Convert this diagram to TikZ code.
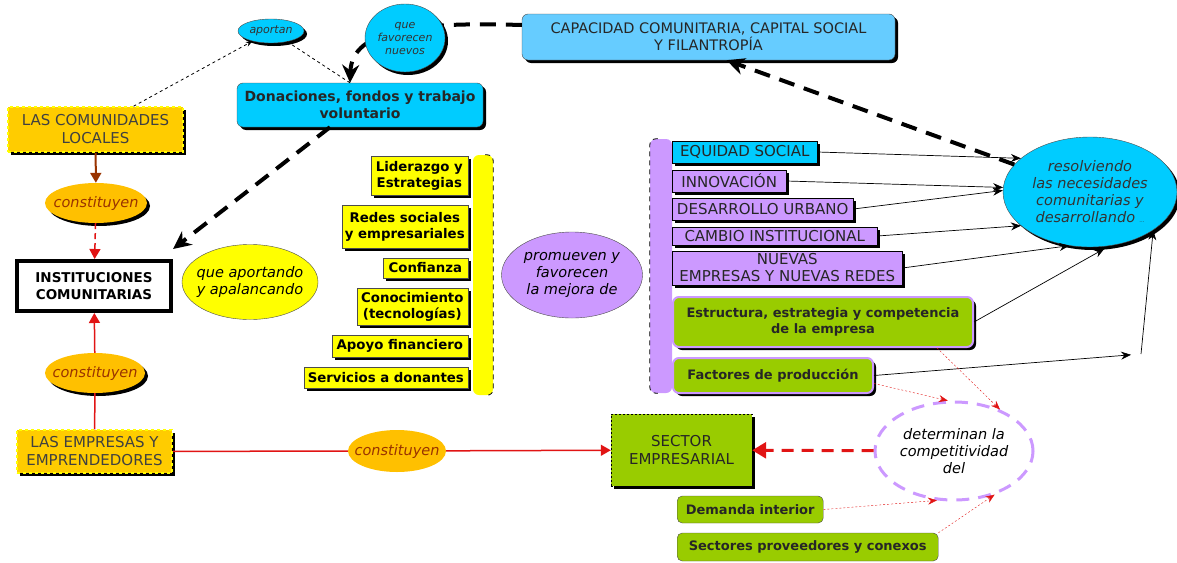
\documentclass[tikz,border=0pt]{standalone}
\usepackage{fontspec}
\setmainfont{DejaVu Sans}
\usetikzlibrary{shapes.geometric, shadows, arrows.meta}

\definecolor{celeste}{RGB}{0,204,255}
\definecolor{celestecl}{RGB}{102,204,255}
\definecolor{dorado}{RGB}{255,204,0}
\definecolor{amarillo}{RGB}{255,255,0}
\definecolor{lila}{RGB}{204,153,255}
\definecolor{verde}{RGB}{153,204,0}
\definecolor{naranja}{RGB}{255,192,0}
\definecolor{marron}{RGB}{153,51,0}
\definecolor{rojo}{RGB}{225,20,20}

\begin{document}
\begin{tikzpicture}[
    x=1pt, y=-1pt, >=Stealth,
    sombra/.style={drop shadow={fill=black, opacity=1, shadow xshift=3pt, shadow yshift=-3pt}},
    cajaoro/.style={rectangle, fill=dorado, draw=amarillo, line width=1.5pt, dashed, sombra,
        text=black!75, font=\fontsize{15}{18}\selectfont, align=center, inner sep=2pt},
    cajaceleste/.style={rectangle, rounded corners=6pt, fill=celeste, draw=black!70, sombra,
        text=black!85, font=\bfseries\fontsize{14}{17}\selectfont, align=center},
    cajaamarilla/.style={rectangle, fill=amarillo, draw=black!70, sombra, anchor=east,
        font=\bfseries\fontsize{13.3}{16}\selectfont, align=center, inner xsep=3pt, inner ysep=1pt},
    cajalila/.style={rectangle, fill=lila, draw=black, sombra, anchor=west,
        font=\fontsize{15}{17}\selectfont, text=black!85, align=center, inner xsep=4pt, inner ysep=0pt},
    cajaverde/.style={rectangle, rounded corners=6pt, fill=verde, draw=lila, line width=2pt, sombra,
        anchor=west, font=\bfseries\fontsize{13}{16}\selectfont, text=black!85, align=center},
    cajaverdesimple/.style={rectangle, rounded corners=5pt, fill=verde, draw=black!70, anchor=west,
        font=\bfseries\fontsize{13}{16}\selectfont, text=black!85},
    elipse/.style={ellipse, inner sep=0pt, align=center, font=\itshape\fontsize{14.5}{17}\selectfont},
    elipsenaranja/.style={elipse, fill=naranja, text=marron, inner xsep=-8pt},
    elipseceleste/.style={elipse, fill=celeste, draw=black!70, sombra, text=black!80},
    flechafina/.style={black, line width=0.7pt, -{Stealth[length=10pt, width=8pt]}},
    flechagruesa/.style={line width=4pt, dash pattern=on 16pt off 10pt, -{Stealth[length=18pt, width=17pt]}},
    flechapunteada/.style={rojo, dash pattern=on 2pt off 2pt, -{Stealth[length=9pt, width=7pt]}},
    flecharoja/.style={rojo, line width=1.5pt, -{Triangle[length=10pt, width=11pt]}}
  ]
    \useasboundingbox (0,0) rectangle (1177,562);

    % --- PARTE SUPERIOR: donaciones y capital social ---
    \node[elipseceleste, minimum width=66pt, minimum height=24pt,
          font=\itshape\fontsize{11}{13}\selectfont] (aportan) at (271,31) {aportan};
    \node[cajaceleste, minimum width=246pt, minimum height=44pt] (donaciones) at (360,105)
          {Donaciones, fondos y trabajo\\voluntario};
    \node[cajaceleste, fill=celestecl, font=\fontsize{14.5}{17}\selectfont,
          minimum width=373pt, minimum height=46pt] (capacidad) at (708.5,37)
          {CAPACIDAD COMUNITARIA, CAPITAL SOCIAL\\Y FILANTROPÍA};
    % la linea gruesa pasa por detras de la elipse
    \draw[flechagruesa] ([yshift=12pt]capacidad.west) .. controls (420,22) and (352,28) .. ([xshift=-10pt]donaciones.north);
    \node[elipseceleste, minimum width=80pt, minimum height=68pt,
          font=\itshape\fontsize{11}{13}\selectfont] (favorecen) at (405,38) {que\\favorecen\\nuevos};

    % --- LADO IZQUIERDO: comunidades, instituciones y empresas ---
    \node[cajaoro, minimum width=175pt, minimum height=45pt] (comunidades) at (95.5,129.5) {LAS COMUNIDADES\\LOCALES};
    \node[elipsenaranja, sombra, minimum width=102pt, minimum height=40pt] (constA) at (96,203) {constituyen};
    \node[rectangle, fill=white, draw=black, line width=4pt, minimum width=154pt, minimum height=50pt,
          font=\bfseries\fontsize{13.5}{17}\selectfont, align=center] (instituciones) at (94,286)
          {INSTITUCIONES\\COMUNITARIAS};
    \node[elipse, fill=amarillo, draw=black!70, inner xsep=-7pt, minimum width=136pt, minimum height=75pt]
          (apalancando) at (250,282) {que aportando\\y apalancando};
    \node[elipsenaranja, sombra, minimum width=100pt, minimum height=40pt] (constB) at (95,373) {constituyen};
    \node[cajaoro, minimum width=155pt, minimum height=43pt] (empresas) at (94.5,451.5) {LAS EMPRESAS Y\\EMPRENDEDORES};
    \node[elipsenaranja, minimum width=98pt, minimum height=42pt] (constC) at (397,451) {constituyen};

    % --- RECURSOS (lista amarilla) ---
    \node[cajaamarilla, minimum width=97pt, minimum height=39pt] (liderazgo) at (468,175.5) {Liderazgo y\\Estrategias};
    \node[cajaamarilla, minimum width=126pt, minimum height=43pt] (redes) at (468,226.5) {Redes sociales\\y empresariales};
    \node[cajaamarilla, minimum width=85pt, minimum height=20pt] (confianza) at (468,268) {Confianza};
    \node[cajaamarilla, minimum width=111pt, minimum height=37pt] (conocimiento) at (468,306.5) {Conocimiento\\(tecnologías)};
    \node[cajaamarilla, minimum width=136pt, minimum height=22pt] (apoyo) at (468,346) {Apoyo financiero};
    \node[cajaamarilla, minimum width=164pt, minimum height=21pt] (servicios) at (468,377.5) {Servicios a donantes};
    \node[rectangle, rounded corners=6pt, fill=amarillo, minimum width=20pt, minimum height=240pt] (barraamarilla) at (483,275) {};
    \draw[thick, dash pattern=on 5pt off 4pt, rounded corners=6pt]
          ([xshift=-8pt]barraamarilla.north east) -- (barraamarilla.north east)
          -- (barraamarilla.south east) -- ([xshift=-8pt]barraamarilla.south east);

    \node[elipse, fill=lila, draw=black!70, minimum width=141pt, minimum height=86pt]
          (promueven) at (572,275) {promueven y\\favorecen\\la mejora de};

    % --- LISTA DERECHA ---
    \node[rectangle, rounded corners=6pt, fill=lila, minimum width=22pt, minimum height=254pt] (barralila) at (661,266) {};
    \draw[thick, dash pattern=on 5pt off 4pt, rounded corners=6pt]
          ([xshift=8pt]barralila.north west) -- (barralila.north west)
          -- (barralila.south west) -- ([xshift=8pt]barralila.south west);

    \node[cajalila, fill=celeste, minimum width=145pt, minimum height=22pt] (equidad) at (672,152) {EQUIDAD SOCIAL};
    \node[cajalila, minimum width=114pt, minimum height=22pt] (innovacion) at (672,181) {INNOVACIÓN};
    \node[cajalila, minimum width=181pt, minimum height=22pt] (desarrollo) at (672,209) {DESARROLLO URBANO};
    \node[cajalila, minimum width=205pt, minimum height=18pt] (cambio) at (672,236) {CAMBIO INSTITUCIONAL};
    \node[cajalila, minimum width=230pt, minimum height=34pt] (nuevas) at (672,268) {NUEVAS\\EMPRESAS Y NUEVAS REDES};
    \node[cajaverde, minimum width=300pt, minimum height=50pt] (estructura) at (672,322)
          {Estructura, estrategia y competencia\\de la empresa};
    \node[cajaverde, minimum width=200pt, minimum height=35pt] (factores) at (672,375.5) {Factores de producción};

    \node[elipseceleste, minimum width=174pt, minimum height=110pt] (resolviendo) at (1090,192)
          {resolviendo\\las necesidades\\comunitarias y\\desarrollando \tiny...};

    % --- COMPETITIVIDAD ---
    \node[rectangle, fill=verde, draw=black, dash pattern=on 2pt off 2pt, sombra, align=center,
          font=\fontsize{15}{18}\selectfont, text=black!85, minimum width=141pt, minimum height=72pt]
          (sector) at (681.5,450) {SECTOR\\EMPRESARIAL};
    \node[elipse, fill=white, draw=lila, line width=3pt, dash pattern=on 13pt off 9pt,
          minimum width=158pt, minimum height=98pt] (determinan) at (954,451)
          {determinan la\\competitividad\\del};
    \node[cajaverdesimple, minimum width=146pt, minimum height=27pt] (demanda) at (677,509.5) {Demanda interior};
    \node[cajaverdesimple, minimum width=261pt, minimum height=28pt] (sectores) at (677,547) {Sectores proveedores y conexos};

    \coordinate (quiebre) at (1141,354);

    % --- CONECTORES ---
    \draw[dashed, thick, ->] ([xshift=38pt]comunidades.north) -- (aportan);
    \draw[dashed, thick] (aportan) -- ([xshift=-10pt]donaciones.north);
    \draw[flechagruesa] ([xshift=-30pt]donaciones.south) -- ([yshift=10pt]instituciones.north east);
    \draw[flechagruesa] (resolviendo) -- ([xshift=18pt]capacidad.south);

    \draw[marron, line width=2pt, -{Triangle[length=10pt, width=11pt]}] (comunidades) -- (constA);
    \draw[flecharoja, dash pattern=on 6pt off 4pt] (constA) -- (instituciones);
    \draw[rojo, line width=1.5pt] (empresas) -- (constB);
    \draw[flecharoja] (constB) -- (instituciones);
    \draw[rojo, line width=1.5pt] (empresas) -- (constC);
    \draw[flecharoja] (constC) -- (sector);
    \draw[rojo, line width=3pt, dash pattern=on 12pt off 8pt, -{Triangle[length=14pt, width=16pt]}] (determinan) -- (sector);

    \foreach \desde/\ang in {equidad/154, innovacion/177, desarrollo/179, cambio/206, nuevas/249}
        \draw[flechafina] (\desde.east) -- (resolviendo.\ang);
    \draw[flechafina, shorten >=6pt] (estructura.east) -- (resolviendo.290);
    \draw[flechafina, shorten >=10pt] (factores.east) -- (quiebre);
    \draw[flechafina] (quiebre) -- (resolviendo.329);

    \draw[flechapunteada] ([yshift=-8pt]factores.east) -- (determinan.97);
    \draw[flechapunteada] ([xshift=-37pt]estructura.south east) -- (determinan.42);
    \draw[flechapunteada] (demanda.east) -- (determinan.251);
    \draw[flechapunteada] (sectores.north east) -- (determinan.313);

  \end{tikzpicture}
\end{document}
